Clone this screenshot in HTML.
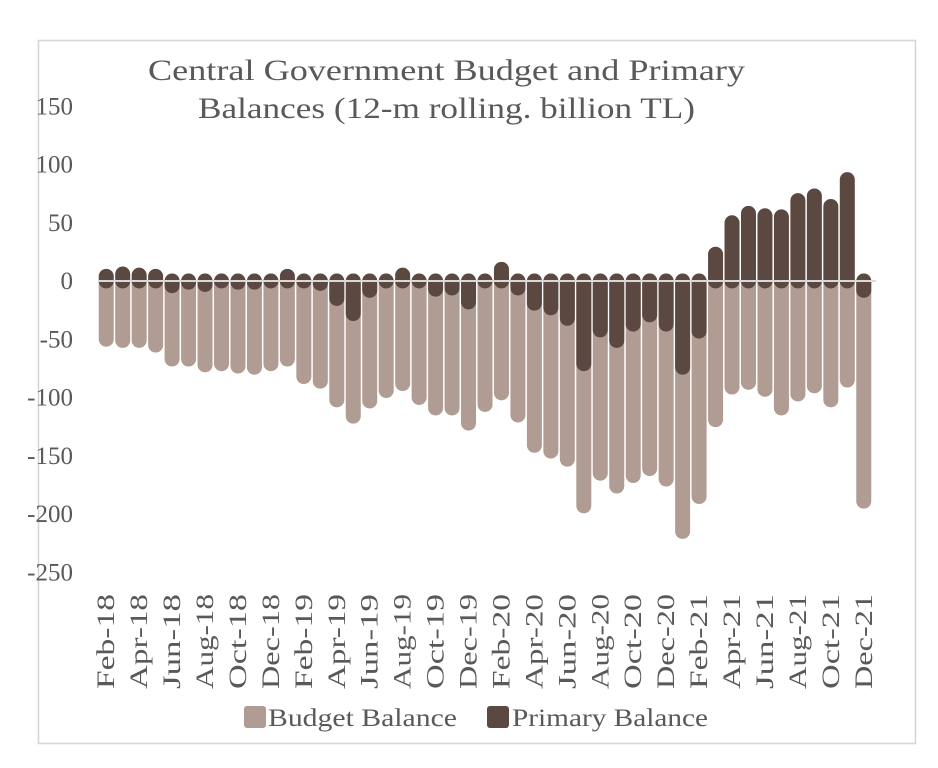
<!DOCTYPE html>
<html><head><meta charset="utf-8"><style>
body{margin:0;background:#fff;}
svg{display:block;font-family:"Liberation Serif",serif;}
</style></head><body>
<svg id="chart" width="938" height="768">
<rect x="38.5" y="40.5" width="877" height="703" fill="#fff" stroke="#d4d4d4" stroke-width="1.5"/>
<text x="148" y="80" textLength="597" lengthAdjust="spacingAndGlyphs" font-size="30" fill="#595959">Central Government Budget and Primary</text>
<text x="198" y="118" textLength="497" lengthAdjust="spacingAndGlyphs" font-size="30" fill="#595959">Balances (12-m rolling. billion TL)</text>
<g id="yaxis"></g>
<g id="bars"></g>
<line id="zero" stroke="#d9d9d9" stroke-width="2"/>
<g id="xaxis"></g>
<g>
<rect x="244" y="706" width="22" height="22" rx="3" fill="#b09c93"/>
<text x="268" y="726" textLength="189" lengthAdjust="spacingAndGlyphs" font-size="25" fill="#595959">Budget Balance</text>
<rect x="487" y="706" width="22" height="22" rx="3" fill="#5b4840"/>
<text x="512" y="726" textLength="196" lengthAdjust="spacingAndGlyphs" font-size="25" fill="#595959">Primary Balance</text>
</g>
</svg>
<script>
const months = ["Feb-18","Mar-18","Apr-18","May-18","Jun-18","Jul-18","Aug-18","Sep-18","Oct-18","Nov-18","Dec-18","Jan-19","Feb-19","Mar-19","Apr-19","May-19","Jun-19","Jul-19","Aug-19","Sep-19","Oct-19","Nov-19","Dec-19","Jan-20","Feb-20","Mar-20","Apr-20","May-20","Jun-20","Jul-20","Aug-20","Sep-20","Oct-20","Nov-20","Dec-20","Jan-21","Feb-21","Mar-21","Apr-21","May-21","Jun-21","Jul-21","Aug-21","Sep-21","Oct-21","Nov-21","Dec-21"];
const budget = [-50,-51,-51,-55,-67,-67,-72,-71,-73,-74,-71,-67,-82,-86,-102,-116,-103,-94,-88,-100,-109,-109,-122,-106,-96,-115,-141,-146,-153,-193,-165,-176,-167,-161,-170,-215,-185,-119,-91,-87,-93,-109,-97,-90,-102,-85,-189];
const primary = [4,6,5,4,-4,-1,-3,0,-1,-1,0,4,0,-2,-15,-28,-8,0,5,0,-7,-6,-18,0,10,-6,-19,-23,-32,-71,-42,-51,-37,-29,-37,-74,-43,23,50,58,56,55,69,73,64,87,-8];
const yTicks = [150,100,50,0,-50,-100,-150,-200,-250];
const NS="http://www.w3.org/2000/svg";
const x0=98, x1=872, pitch=(x1-x0)/months.length, bw=15;
const y = v => 281 - v*1.165;
const xc = i => x0 + pitch*(i+0.5);
function mk(tag, attrs, parent){const e=document.createElementNS(NS,tag);for(const k in attrs)e.setAttribute(k,attrs[k]);parent.appendChild(e);return e;}
const ya=document.getElementById('yaxis');
yTicks.forEach(t=>{
  const e=mk('text',{x:73,y:y(t)+8,'text-anchor':'end','font-size':25,fill:'#595959'},ya);
  
  
  e.textContent=t;
});
const bars=document.getElementById('bars');
function bar(v,i,color,name){
  const l=mk('line',{x1:xc(i),x2:xc(i),y1:y(0),y2:y(v),stroke:color,'stroke-width':bw,'stroke-linecap':'round'},bars);
  
  
}
budget.forEach((v,i)=>bar(v,i,'#b09c93','budget-bar'));
primary.forEach((v,i)=>bar(v,i,'#5b4840','primary-bar'));
const z=document.getElementById('zero');
z.setAttribute('x1',x0);z.setAttribute('x2',x1+4);z.setAttribute('y1',y(0));z.setAttribute('y2',y(0));
const xa=document.getElementById('xaxis');
months.forEach((m,i)=>{
  if(i%2) return;
  const e=mk('text',{x:0,y:0,'text-anchor':'end','font-size':25,textLength:95,lengthAdjust:'spacingAndGlyphs',fill:'#595959',transform:`translate(${xc(i)+8},594) rotate(-90)`},xa);
  
  
  e.textContent=m;
});
</script>
</body></html>
